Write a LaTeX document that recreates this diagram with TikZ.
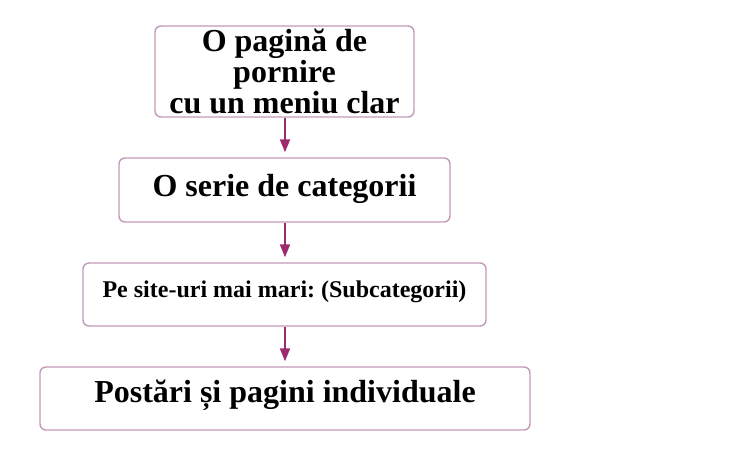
\documentclass[tikz,border=0pt]{standalone}
\usepackage{fontspec}
\setmainfont{Liberation Serif}
\frenchspacing
\usetikzlibrary{arrows.meta}
\definecolor{boxline}{HTML}{C49AB9}
\definecolor{arrowcol}{HTML}{9C2A6E}
\begin{document}
\begin{tikzpicture}[x=1pt,y=1pt,
  stepbox/.style={draw=boxline,line width=1.4pt,rounded corners=6pt,fill=white,
    inner sep=0pt,font=\bfseries\fontsize{32}{31}\selectfont,align=center},
  flow/.style={draw=arrowcol,line width=2pt,-{Triangle[width=10pt,length=13pt]},shorten >=5pt}]
\useasboundingbox (0,0) rectangle (748,452);
\node[stepbox,minimum width=259pt,minimum height=91pt,text depth=0pt] (b1) at (284.5,380.5)
  {O pagină de\\pornire\\cu un meniu clar};
\node[stepbox,minimum width=331pt,minimum height=64pt,text height=22pt,text depth=8pt] (b2) at (284.5,262)
  {O serie de categorii};
\node[stepbox,minimum width=403pt,minimum height=63pt,text height=16pt,text depth=9pt,
  font=\bfseries\fontsize{24}{28}\selectfont] (b3) at (284.5,157.5)
  {Pe site-uri mai mari: (Subcategorii)};
\node[stepbox,minimum width=490pt,minimum height=63pt,text height=22pt,text depth=13pt] (b4) at (285,53.5)
  {Postări și pagini individuale};
\draw[flow] (b1.south -| 285,0) -- (b2.north -| 285,0);
\draw[flow] (b2.south -| 285,0) -- (b3.north -| 285,0);
\draw[flow] (b3.south -| 285,0) -- (b4.north -| 285,0);
\end{tikzpicture}
\end{document}
